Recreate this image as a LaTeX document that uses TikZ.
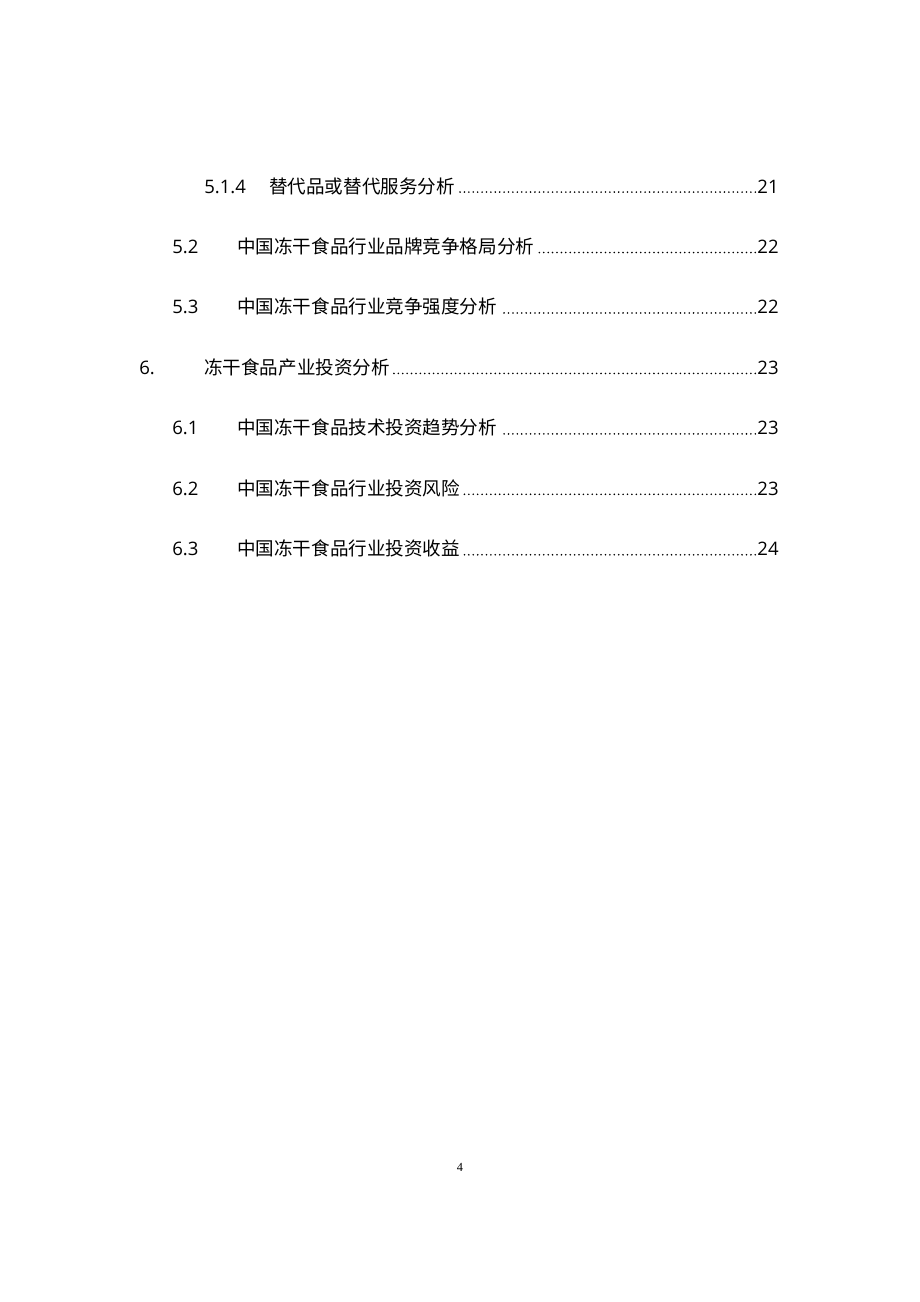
\documentclass[tikz,border=0pt]{standalone}
\usepackage{fontspec}
\setmainfont{Open Sans}
\newfontfamily\cjk{Noto Sans CJK SC}
\newfontfamily\folioface{Liberation Serif}
\begin{document}
\begin{tikzpicture}[x=0.6467pt, y=-0.6467pt, font=\fontsize{12pt}{14pt}\selectfont,
    entry/.style={anchor=base west, inner sep=0pt},
    pagenum/.style={anchor=base east, inner sep=0pt},
    leader/.style={line width=1.15pt, line cap=round, dash pattern=on 0pt off 2.85pt}]
\useasboundingbox (0,0) rectangle (920,1302);
% toc rows: index / number x / title x / number / title / page
\foreach \i/\nx/\tx/\num/\title/\pg in {
    0/204/269/5.1.4/替代品或替代服务分析/21,
    1/172/237/5.2/中国冻干食品行业品牌竞争格局分析/22,
    2/172/237/5.3/中国冻干食品行业竞争强度分析/22,
    3/139/204/6./冻干食品产业投资分析/23,
    4/172/237/6.1/中国冻干食品技术投资趋势分析/23,
    5/172/237/6.2/中国冻干食品行业投资风险/23,
    6/172/237/6.3/中国冻干食品行业投资收益/24}{
  \node[entry] (n\i) at (\nx,{193+60.45*\i}) {\num};
  \node[entry] (t\i) at (\tx,{193+60.45*\i}) {\cjk \title};
  \node[pagenum] (p\i) at (779,{193+60.45*\i}) {\pg};
  \draw[leader] ([xshift=-1.2pt,yshift=0.6pt]p\i.base west) -- ([xshift=2pt,yshift=0.6pt]t\i.base east);
}
\node[font=\folioface\fontsize{8pt}{9pt}\selectfont] (folio) at (460,1167) {4};
\end{tikzpicture}
\end{document}
